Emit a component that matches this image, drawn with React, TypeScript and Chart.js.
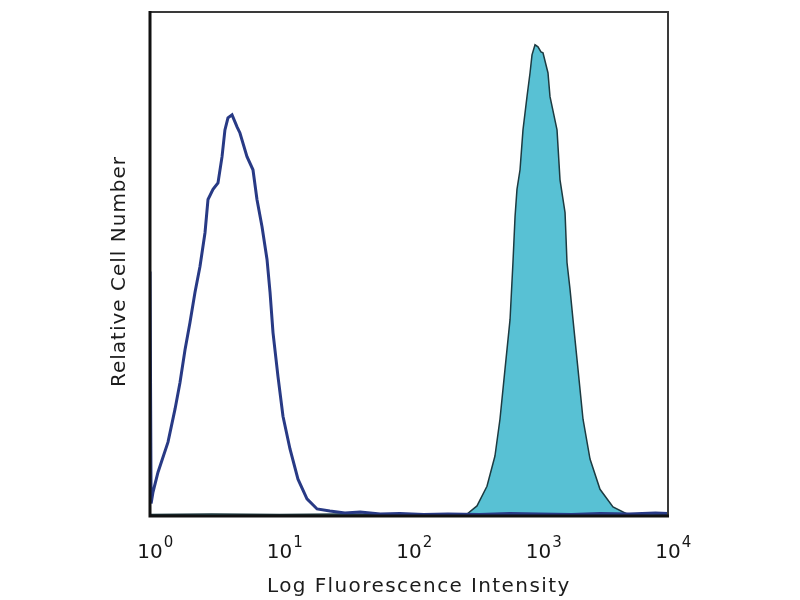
import { useEffect, useRef } from "react";
import { Chart, registerables } from "chart.js";

Chart.register(...registerables);

// Unstained / control histogram (navy outline)
const blueX = [1, 1.02, 1.055, 1.153, 1.377, 1.56, 1.705, 1.864, 2.036, 2.226, 2.432, 2.659, 2.805, 3.066, 3.35, 3.6, 3.79, 4.0, 4.3, 4.53, 4.7, 4.95, 5.61, 6.24, 6.7, 7.33, 8.01, 8.45, 8.91, 9.73, 10.64, 12.05, 13.89, 16.3, 19.5, 24.5, 32, 42, 60, 85, 130, 200, 350, 600, 1000, 1800, 3000, 5000, 8000, 10000];
const blueY = [48.5, 2.5, 4.75, 8.7, 14.65, 21.2, 26.5, 33.0, 38.4, 44.4, 49.5, 56.2, 62.8, 64.8, 66.1, 71.3, 76.6, 79.0, 79.6, 78.2, 77.2, 76.0, 71.3, 68.7, 62.8, 57.4, 50.9, 44.4, 36.4, 27.7, 19.8, 13.3, 7.3, 3.4, 1.4, 1.0, 0.6, 0.8, 0.4, 0.5, 0.3, 0.4, 0.3, 0.5, 0.4, 0.3, 0.5, 0.4, 0.6, 0.5];

// Stained histogram (filled teal)
const tealX = [1, 3, 10, 30, 100, 200, 280.5, 335, 400, 461, 504, 551, 603, 635, 659, 682, 720, 759, 815, 860, 891, 940, 991, 1045, 1083, 1184, 1227, 1390, 1466, 1603, 1660, 1751, 1846, 2019, 2207, 2500, 2985, 3760, 4820, 7000, 10000];
const tealY = [0.3, 0.4, 0.3, 0.4, 0.3, 0.4, 0.4, 2.0, 5.9, 11.9, 19.2, 29.1, 39.0, 50.3, 59.4, 64.8, 68.7, 76.6, 83.2, 87.9, 91.5, 93.5, 93.1, 92.1, 91.9, 87.9, 83.2, 76.6, 66.7, 60.2, 50.3, 45.0, 39.0, 29.1, 19.2, 11.3, 5.3, 1.8, 0.4, 0.5, 0.3];

const tickExponents = [0, 1, 2, 3, 4];
const xTitle = "Log Fluorescence Intensity";
const yTitle = "Relative Cell Number";

export default function App() {
  const ref = useRef<HTMLCanvasElement>(null);

  useEffect(() => {
    if (!ref.current) return;

    const overlay = {
      id: "overlay",
      afterDraw(chart: any) {
        const { ctx, chartArea: a, scales } = chart;
        ctx.save();
        // frame
        ctx.strokeStyle = "#3a3a3a";
        ctx.lineWidth = 2;
        ctx.strokeRect(a.left, a.top, a.right - a.left, a.bottom - a.top);
        ctx.strokeStyle = "#111111";
        ctx.lineWidth = 3;
        ctx.beginPath();
        ctx.moveTo(a.left, a.top - 1);
        ctx.lineTo(a.left, a.bottom);
        ctx.lineTo(a.right + 1, a.bottom);
        ctx.stroke();

        // tick labels 10^n
        const xs = scales.x;
        ctx.fillStyle = "#161616";
        ctx.textBaseline = "alphabetic";
        for (const e of tickExponents) {
          const px = xs.getPixelForValue(Math.pow(10, e));
          ctx.font = "20px 'DejaVu Sans'";
          ctx.textAlign = "center";
          ctx.fillText("10", px, 558);
          const w = ctx.measureText("10").width;
          ctx.font = "15px 'DejaVu Sans'";
          ctx.textAlign = "left";
          ctx.fillText(String(e), px + w / 2 + 1, 547);
        }

        // axis titles
        ctx.fillStyle = "#1c1c1c";
        ctx.font = "20px 'DejaVu Sans'";
        (ctx as any).letterSpacing = "1.4px";
        ctx.textAlign = "left";
        ctx.textBaseline = "alphabetic";
        ctx.fillText(xTitle, 267, 592);

        (ctx as any).letterSpacing = "1px";
        ctx.translate(125, 387);
        ctx.rotate(-Math.PI / 2);
        ctx.fillText(yTitle, 0, 0);
        ctx.restore();
      },
    };

    const chart = new Chart(ref.current, {
      type: "line",
      data: {
        datasets: [
          {
            label: "Control",
            data: blueX.map((x, i) => ({ x, y: blueY[i] })),
            borderColor: "#283a85",
            borderWidth: 3,
            pointRadius: 0,
            fill: false,
            tension: 0,
          },
          {
            label: "Stained",
            data: tealX.map((x, i) => ({ x, y: tealY[i] })),
            borderColor: "#1d3a40",
            backgroundColor: "#58c1d4",
            borderWidth: 1.5,
            pointRadius: 0,
            fill: "origin",
            tension: 0,
          },
        ],
      },
      options: {
        animation: false,
        responsive: true,
        maintainAspectRatio: false,
        layout: { padding: { top: 12, right: 132, left: 0, bottom: 0 } },
        plugins: {
          legend: { display: false },
          tooltip: { enabled: false },
        },
        scales: {
          x: {
            type: "logarithmic",
            min: 1,
            max: 10000,
            grid: { display: false },
            border: { display: false },
            ticks: { display: false },
            afterFit: (s: any) => {
              s.height = 84;
            },
          },
          y: {
            min: 0,
            max: 100,
            grid: { display: false },
            border: { display: false },
            ticks: { display: false },
            afterFit: (s: any) => {
              s.width = 150;
            },
          },
        },
      },
      plugins: [overlay],
    });

    return () => chart.destroy();
  }, []);

  return (
    <div style={{ position: "fixed", left: 0, top: 0, width: 800, height: 600, background: "#ffffff" }}>
      <canvas ref={ref} />
    </div>
  );
}
